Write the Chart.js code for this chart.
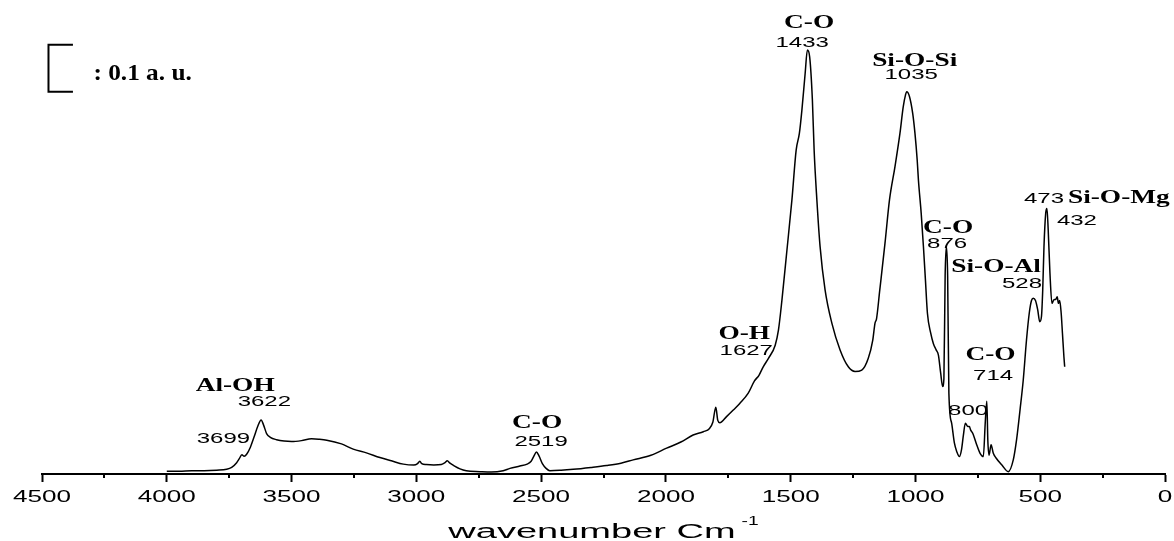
<!DOCTYPE html>
<html>
<head>
<meta charset="utf-8">
<title>FTIR spectrum</title>
<script src="https://cdn.jsdelivr.net/npm/chart.js@4.4.1/dist/chart.umd.min.js"></script>
<style>
  html, body { margin: 0; padding: 0; background: #fff; }
  #spectrum { display: block; }
</style>
</head>
<body>
<canvas id="spectrum" width="1174" height="541"></canvas>
<script>
// Spectrum, read in descending wavenumber (cm-1) / absorbance (a.u.)
const wavenumbers = [
  4000, 3950, 3900, 3850, 3800, 3760, 3740, 3720, 3710, 3699, 3690, 3680, 3665, 3650, 3635, 3622,
  3612, 3600, 3585, 3560, 3530, 3500, 3460, 3420, 3390, 3359, 3300, 3253, 3200, 3146, 3100, 3052,
  3010, 2995, 2986, 2978, 2960, 2930, 2900, 2885, 2876, 2865, 2850, 2825, 2800, 2745, 2700, 2652,
  2625, 2585, 2556, 2540, 2528, 2519, 2508, 2495, 2480, 2465, 2420, 2371, 2300, 2238, 2180, 2131,
  2060, 1997, 1940, 1891, 1850, 1825, 1812, 1800, 1792, 1784, 1757, 1730, 1704, 1670, 1645, 1627,
  1610, 1589, 1562, 1549, 1535, 1515, 1495, 1478, 1465, 1455, 1442, 1433, 1424, 1413, 1406, 1395,
  1382, 1362, 1335, 1302, 1269, 1242, 1215, 1189, 1171, 1162, 1156, 1143, 1122, 1104, 1082, 1062,
  1049, 1040, 1035, 1024, 1011, 1002, 993, 988, 977, 968, 960, 952, 939, 928, 917, 908,
  899, 891, 886, 881, 876, 871, 866, 855, 844, 834, 824, 815, 808, 800, 790, 784,
  779, 770, 757, 741, 728, 720, 714, 710, 705, 697, 688, 677, 652, 628, 608, 595,
  581, 568, 555, 544, 535, 528, 519, 510, 502, 495, 490, 485, 478, 473, 468, 461,
  453, 446, 437, 432, 427, 422, 416, 411, 405, 402
];
const absorbance = [
  0.004, 0.004, 0.005, 0.005, 0.006, 0.008, 0.012, 0.022, 0.030, 0.039, 0.036, 0.040, 0.055, 0.077, 0.100, 0.113,
  0.102, 0.084, 0.076, 0.071, 0.068, 0.067, 0.069, 0.073, 0.072, 0.070, 0.062, 0.051, 0.043, 0.033, 0.026, 0.019,
  0.017, 0.020, 0.025, 0.020, 0.018, 0.017, 0.018, 0.022, 0.026, 0.021, 0.016, 0.009, 0.005, 0.003, 0.002, 0.005,
  0.010, 0.015, 0.019, 0.025, 0.037, 0.045, 0.036, 0.020, 0.010, 0.005, 0.006, 0.008, 0.012, 0.016, 0.021, 0.028,
  0.038, 0.053, 0.066, 0.081, 0.088, 0.095, 0.108, 0.140, 0.112, 0.107, 0.120, 0.134, 0.148, 0.170, 0.196, 0.208,
  0.226, 0.244, 0.272, 0.304, 0.368, 0.474, 0.581, 0.687, 0.723, 0.772, 0.850, 0.900, 0.886, 0.794, 0.687, 0.581,
  0.481, 0.389, 0.319, 0.262, 0.226, 0.216, 0.219, 0.244, 0.283, 0.319, 0.328, 0.389, 0.489, 0.581, 0.652, 0.723,
  0.779, 0.804, 0.811, 0.801, 0.765, 0.723, 0.666, 0.623, 0.553, 0.482, 0.411, 0.340, 0.298, 0.275, 0.262, 0.251,
  0.213, 0.184, 0.200, 0.420, 0.482, 0.420, 0.170, 0.106, 0.064, 0.045, 0.035, 0.051, 0.080, 0.106, 0.099, 0.099,
  0.092, 0.084, 0.064, 0.042, 0.035, 0.110, 0.153, 0.070, 0.038, 0.060, 0.042, 0.032, 0.016, 0.003, 0.028, 0.070,
  0.134, 0.198, 0.283, 0.340, 0.367, 0.372, 0.367, 0.347, 0.322, 0.333, 0.389, 0.481, 0.553, 0.563, 0.517, 0.425,
  0.361, 0.368, 0.370, 0.375, 0.361, 0.367, 0.340, 0.298, 0.247, 0.226
];

// Band assignments and the peak positions they mark
const bandNames = ["Al-OH", "C-O", "O-H", "C-O", "Si-O-Si", "C-O", "Si-O-Al", "C-O", "Si-O-Mg"];
const peakLabels = ["3622", "3699", "2519", "1627", "1433", "1035", "876", "528", "714", "800", "473", "432"];

const axisMin = 0;
const axisMax = 4500;
const majorStep = 500;
const scaleBarSize = 0.1; // a.u.

// where each text sits, in wavenumber / a.u.
const bandSpots = [
  { wn: 3726, au: 0.174 }, { wn: 2516, au: 0.096 }, { wn: 1686, au: 0.285 },
  { wn: 1426, au: 0.947 }, { wn: 1003, au: 0.866 }, { wn: 869, au: 0.511 },
  { wn: 677, au: 0.428 }, { wn: 699, au: 0.240 }, { wn: 389, au: 0.574, align: "left" }
];
const peakSpots = [
  { wn: 3609, au: 0.143 }, { wn: 3666, au: 0.064, align: "right" }, { wn: 2500, au: 0.057 },
  { wn: 1678, au: 0.251 }, { wn: 1454, au: 0.907 }, { wn: 1017, au: 0.838 },
  { wn: 873, au: 0.479 }, { wn: 573, au: 0.394 }, { wn: 689, au: 0.198 },
  { wn: 789, au: 0.123 }, { wn: 485, au: 0.574 }, { wn: 353, au: 0.528 }
];

const SANS = '"Liberation Sans", Arial, sans-serif';
const SERIF = '"Liberation Serif", "Times New Roman", serif';

// text in the figure is drawn wide, so squeeze/stretch it horizontally
function wideText(ctx, text, px, py, font, sx, align) {
  ctx.save();
  ctx.font = font;
  ctx.fillStyle = "#000";
  ctx.textAlign = align || "center";
  ctx.textBaseline = "alphabetic";
  ctx.translate(px, py);
  ctx.scale(sx, 1);
  ctx.fillText(text, 0, 0);
  ctx.restore();
}

const spectrumDecor = {
  id: "spectrumDecor",
  afterDraw(chart) {
    const { ctx, scales: { x, y } } = chart;

    // minor ticks halfway between the labelled ones
    ctx.save();
    ctx.strokeStyle = "#000";
    ctx.lineWidth = 2;
    for (let v = axisMin + majorStep / 2; v < axisMax; v += majorStep) {
      const px = Math.round(x.getPixelForValue(v));
      ctx.beginPath();
      ctx.moveTo(px, x.top);
      ctx.lineTo(px, x.top + 4);
      ctx.stroke();
    }
    ctx.restore();

    // tick labels
    x.ticks.forEach(t => {
      wideText(ctx, String(t.value), x.getPixelForValue(t.value), x.top + 28, "16px " + SANS, 1.63, "center");
    });

    // axis title with superscript
    const titleFont = "20px " + SANS;
    const supFont = "12px " + SANS;
    ctx.save();
    ctx.font = titleFont;
    const mainW = ctx.measureText("wavenumber Cm").width * 1.9;
    ctx.font = supFont;
    const supW = ctx.measureText("-1").width * 1.6;
    ctx.restore();
    const startX = (x.left + x.right) / 2 - (mainW + supW + 6) / 2;
    wideText(ctx, "wavenumber Cm", startX, x.top + 64, titleFont, 1.9, "left");
    wideText(ctx, "-1", startX + mainW + 6, x.top + 51, supFont, 1.6, "left");

    // band names
    bandNames.forEach((name, i) => {
      const s = bandSpots[i];
      wideText(ctx, name, x.getPixelForValue(s.wn), y.getPixelForValue(s.au), "bold 18px " + SERIF, 1.52, s.align || "center");
    });

    // peak positions
    peakLabels.forEach((lbl, i) => {
      const s = peakSpots[i];
      wideText(ctx, lbl, x.getPixelForValue(s.wn), y.getPixelForValue(s.au), "15px " + SANS, 1.6, s.align || "center");
    });

    // 0.1 a.u. scale bar
    const barX = x.getPixelForValue(4474);
    const armX = x.getPixelForValue(4376);
    const barTop = y.getPixelForValue(0.911);
    const barBottom = y.getPixelForValue(0.911 - scaleBarSize);
    ctx.save();
    ctx.strokeStyle = "#000";
    ctx.lineWidth = 2;
    ctx.beginPath();
    ctx.moveTo(armX, barTop);
    ctx.lineTo(barX, barTop);
    ctx.lineTo(barX, barBottom);
    ctx.lineTo(armX, barBottom);
    ctx.stroke();
    ctx.restore();
    wideText(ctx, ": 0.1 a. u.", x.getPixelForValue(4294), y.getPixelForValue(0.836), "bold 23px " + SERIF, 1.1, "left");
  }
};

function drawSpectrum() {
  const points = wavenumbers.map((w, i) => ({ x: w, y: absorbance[i] }));

  new Chart(document.getElementById("spectrum"), {
    type: "line",
    data: {
      datasets: [{
        data: points,
        borderColor: "#000",
        borderWidth: 1.5,
        pointRadius: 0,
        fill: false,
        cubicInterpolationMode: "monotone"
      }]
    },
    options: {
      responsive: false,
      animation: false,
      devicePixelRatio: 1,
      layout: { padding: { left: 42, right: 9, top: 10, bottom: 0 } },
      plugins: { legend: { display: false }, tooltip: { enabled: false } },
      scales: {
        x: {
          type: "linear",
          reverse: true,
          min: axisMin,
          max: axisMax,
          ticks: { stepSize: majorStep, display: false },
          grid: { drawOnChartArea: false, drawTicks: true, tickLength: 8, tickWidth: 2, tickColor: "#000" },
          border: { display: true, color: "#000", width: 2 },
          afterFit: scale => { scale.height = 67; }
        },
        y: { display: false, min: -0.002, max: 0.985 }
      }
    },
    plugins: [spectrumDecor]
  });
}

document.addEventListener("DOMContentLoaded", drawSpectrum);
</script>
</body>
</html>
